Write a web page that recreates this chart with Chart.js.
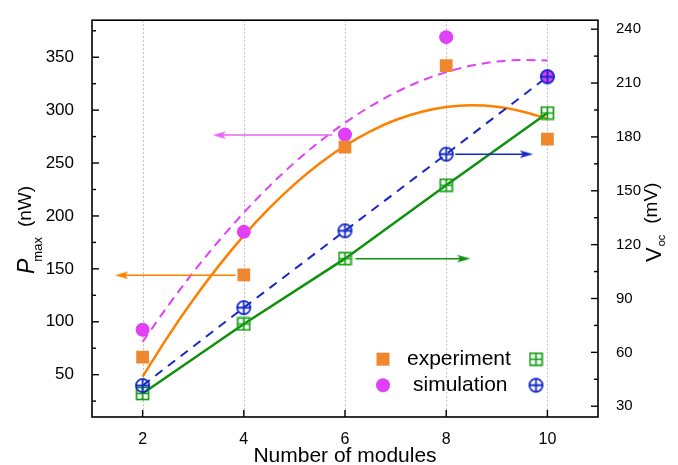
<!DOCTYPE html>
<html><head><meta charset="utf-8">
<script src="https://cdn.jsdelivr.net/npm/chart.js@4"></script>
<style>html,body{margin:0;padding:0;background:#fff}#wrap{width:678px;height:465px}</style>
</head><body><div id="wrap"><canvas id="c" width="678" height="465"></canvas></div>
<script>
// ---------- data ----------
const modules = [2, 4, 6, 8, 10];
const expPower = [66.5, 144.4, 265, 342, 272.7];
const simPower = [92.4, 185, 277, 369, 332];
const expVoc = [37.1, 75.8, 112.2, 153.1, 193.3];
const simVoc = [41.5, 84.9, 127.7, 170.4, 213.5];
const fitX = [2, 2.5, 3, 3.5, 4, 4.5, 5, 5.5, 6, 6.5, 7, 7.5, 8, 8.5, 9, 9.5, 10];
const expFitPower = [48.1, 86.0, 120.8, 152.6, 181.4, 207.1, 229.9, 249.6, 266.3, 280.0, 290.7, 298.3, 303.0, 304.6, 303.2, 298.8, 292.0];
const simFitPower = [81.0, 115.0, 146.7, 176.1, 203.1, 227.9, 250.3, 270.3, 288.1, 303.5, 316.7, 327.5, 335.9, 342.1, 345.9, 347.4, 347.0];
const xTicks = [2, 4, 6, 8, 10];
const powerTicks = [50, 100, 150, 200, 250, 300, 350];
const powerMinorTicks = [25, 75, 125, 175, 225, 275, 325, 375];
const vocTicks = [30, 60, 90, 120, 150, 180, 210, 240];
const vocMinorTicks = [45, 75, 105, 135, 165, 195, 225];
// arrows: [tail x, head x] at a y value
const arrowExpPowerX = [3.84, 1.58], arrowExpPowerY = 144;
const arrowSimPowerX = [5.75, 3.51], arrowSimPowerY = 276.4;
const arrowExpVocX = [6.21, 8.35], arrowExpVocY = 112.2;
const arrowSimVocX = [8.18, 9.59], arrowSimVocY = 170.4;

// ---------- styles ----------
const FONT = '"Liberation Sans", Arial, sans-serif';
const C_ORANGE_LINE = '#FF8000', C_ORANGE_PT = '#F0862E';
const C_MAGENTA = '#E040F8', C_MAGENTA_ARROW = '#E466F0';
const C_GREEN = '#0E920E', C_GREEN_PT = '#14A014';
const C_BLUE = '#1428C8';

function mk(w, h, fn) { const c = document.createElement('canvas'); c.width = w; c.height = h; fn(c.getContext('2d'), w, h); return c; }
const boxPlus = mk(15, 15, (g) => {
  g.strokeStyle = C_GREEN_PT; g.lineWidth = 1.7;
  g.strokeRect(1.5, 1.5, 12, 12);
  g.beginPath(); g.moveTo(7.5, 1.5); g.lineTo(7.5, 13.5); g.moveTo(1.5, 7.5); g.lineTo(13.5, 7.5); g.stroke();
});
const circPlus = mk(17, 17, (g) => {
  g.strokeStyle = C_BLUE; g.lineWidth = 1.8;
  g.beginPath(); g.arc(8.5, 8.5, 6.6, 0, Math.PI * 2); g.stroke();
  g.beginPath(); g.moveTo(8.5, 1.9); g.lineTo(8.5, 15.1); g.moveTo(1.9, 8.5); g.lineTo(15.1, 8.5); g.stroke();
});
function arrowHead(color, dir) {
  return mk(13, 9, (g, w, h) => {
    g.fillStyle = color; g.beginPath();
    if (dir < 0) { g.moveTo(0, 4.5); g.lineTo(13, 0.8); g.lineTo(10.5, 4.5); g.lineTo(13, 8.2); }
    else { g.moveTo(13, 4.5); g.lineTo(0, 0.8); g.lineTo(2.5, 4.5); g.lineTo(0, 8.2); }
    g.closePath(); g.fill();
  });
}

const pts = (xs, ys) => xs.map((x, i) => ({ x, y: ys[i] }));

const datasets = [
  // markers (lowest order drawn on top)
  { data: pts(modules, simVoc), yAxisID: 'y1', pointStyle: circPlus, pointRadius: 7, showLine: false, order: 1 },
  { data: pts(modules, expVoc), yAxisID: 'y1', pointStyle: boxPlus, pointRadius: 7, showLine: false, order: 2 },
  { data: pts(modules, expPower), yAxisID: 'y', pointStyle: 'rect', pointRadius: 9, backgroundColor: C_ORANGE_PT, borderColor: C_ORANGE_PT, borderWidth: 0, showLine: false, order: 3 },
  { data: pts(modules, simPower), yAxisID: 'y', pointStyle: 'circle', pointRadius: 7, backgroundColor: C_MAGENTA, borderColor: C_MAGENTA, borderWidth: 0, showLine: false, order: 4 },
  // arrows
  { data: pts(arrowExpPowerX, [arrowExpPowerY, arrowExpPowerY]), yAxisID: 'y', showLine: true, borderColor: C_ORANGE_LINE, borderWidth: 1.5, pointRadius: [0, 6], pointStyle: arrowHead(C_ORANGE_LINE, -1), order: 5 },
  { data: pts(arrowSimPowerX, [arrowSimPowerY, arrowSimPowerY]), yAxisID: 'y', showLine: true, borderColor: C_MAGENTA_ARROW, borderWidth: 1.5, pointRadius: [0, 6], pointStyle: arrowHead(C_MAGENTA_ARROW, -1), order: 5 },
  { data: pts(arrowExpVocX, [arrowExpVocY, arrowExpVocY]), yAxisID: 'y1', showLine: true, borderColor: C_GREEN, borderWidth: 1.5, pointRadius: [0, 6], pointStyle: arrowHead(C_GREEN, 1), order: 5 },
  { data: pts(arrowSimVocX, [arrowSimVocY, arrowSimVocY]), yAxisID: 'y1', showLine: true, borderColor: C_BLUE, borderWidth: 1.5, pointRadius: [0, 6], pointStyle: arrowHead(C_BLUE, 1), order: 5 },
  // lines
  { data: pts(modules, simVoc), yAxisID: 'y1', showLine: true, borderColor: C_BLUE, borderWidth: 2, borderDash: [9, 7], pointRadius: 0, order: 6 },
  { data: pts(modules, expVoc), yAxisID: 'y1', showLine: true, borderColor: C_GREEN, borderWidth: 2.5, pointRadius: 0, order: 6 },
  { data: pts(fitX, expFitPower), yAxisID: 'y', showLine: true, borderColor: C_ORANGE_LINE, borderWidth: 2.5, pointRadius: 0, cubicInterpolationMode: 'monotone', order: 7 },
  { data: pts(fitX, simFitPower), yAxisID: 'y', showLine: true, borderColor: C_MAGENTA, borderWidth: 2, borderDash: [9, 6], pointRadius: 0, cubicInterpolationMode: 'monotone', order: 8 }
];

function setTicks(arr) { return (s) => { s.ticks = arr.map(v => ({ value: v })); }; }

function drawRich(ctx, x, y, parts) {
  ctx.save(); ctx.translate(x, y); ctx.rotate(-Math.PI / 2);
  ctx.fillStyle = '#000'; ctx.textBaseline = 'alphabetic'; ctx.textAlign = 'left';
  let cx = 0;
  for (const p of parts) {
    ctx.font = p.font; cx += (p.dx || 0);
    ctx.fillText(p.text, cx, p.dy || 0);
    cx += ctx.measureText(p.text).width;
  }
  ctx.restore();
}

const decor = {
  id: 'decor',
  beforeDatasetsDraw(chart) {
    const ctx = chart.ctx, ca = chart.chartArea, X = chart.scales.x;
    ctx.save();
    ctx.strokeStyle = '#bdbdbd'; ctx.lineWidth = 1; ctx.setLineDash([2, 2]);
    for (const v of xTicks) {
      const px = Math.round(X.getPixelForValue(v)) + 0.5;
      ctx.beginPath(); ctx.moveTo(px, ca.top); ctx.lineTo(px, ca.bottom); ctx.stroke();
    }
    ctx.restore();
  },
  afterDatasetsDraw(chart) {
    const ctx = chart.ctx, ca = chart.chartArea, X = chart.scales.x, L = chart.scales.y, R = chart.scales.y1;
    ctx.save();
    ctx.strokeStyle = '#000'; ctx.lineWidth = 1.6; ctx.setLineDash([]);
    ctx.strokeRect(ca.left, ca.top, ca.right - ca.left, ca.bottom - ca.top);
    ctx.lineWidth = 1.4;
    const tick = (x1, y1, x2, y2) => { ctx.beginPath(); ctx.moveTo(x1, y1); ctx.lineTo(x2, y2); ctx.stroke(); };
    for (const v of powerTicks) { const p = L.getPixelForValue(v); tick(ca.left, p, ca.left + 7, p); }
    for (const v of powerMinorTicks) { const p = L.getPixelForValue(v); tick(ca.left, p, ca.left + 4, p); }
    for (const v of vocTicks) { const p = R.getPixelForValue(v); tick(ca.right, p, ca.right - 7, p); }
    for (const v of vocMinorTicks) { const p = R.getPixelForValue(v); tick(ca.right, p, ca.right - 4, p); }
    for (const v of xTicks) { const p = X.getPixelForValue(v); tick(p, ca.bottom, p, ca.bottom - 7); }

    // axis titles
    ctx.fillStyle = '#000';
    ctx.font = '21px ' + FONT; ctx.textAlign = 'center'; ctx.textBaseline = 'alphabetic';
    ctx.fillText('Number of modules', (ca.left + ca.right) / 2, 462);
    drawRich(ctx, 34, 274, [
      { text: 'P', font: 'italic 23px ' + FONT },
      { text: 'max', font: '13px ' + FONT, dx: -3, dy: 8 },
      { text: '(nW)', font: '19px ' + FONT, dx: 10, dy: -3 }
    ]);
    drawRich(ctx, 661, 262, [
      { text: 'V', font: '22px ' + FONT },
      { text: 'oc', font: '11px ' + FONT, dx: 1, dy: 4 },
      { text: '(mV)', font: '19px ' + FONT, dx: 11, dy: -4 }
    ]);

    // legend
    const lx = ca.right - 215, ly1 = ca.top + 339, ly2 = ca.top + 365, rx = ca.right - 62;
    ctx.fillStyle = C_ORANGE_PT; ctx.fillRect(lx - 6.5, ly1 - 6.5, 13, 13);
    ctx.fillStyle = C_MAGENTA; ctx.beginPath(); ctx.arc(lx, ly2, 7, 0, Math.PI * 2); ctx.fill();
    ctx.drawImage(boxPlus, rx - 7.5, ly1 - 7.5);
    ctx.drawImage(circPlus, rx - 8.5, ly2 - 8.5);
    ctx.fillStyle = '#000'; ctx.font = '21px ' + FONT; ctx.textAlign = 'left'; ctx.textBaseline = 'middle';
    ctx.fillText('experiment', lx + 24, ly1);
    ctx.fillText('simulation', lx + 30, ly2);
    ctx.restore();
  }
};

new Chart(document.getElementById('c'), {
  type: 'scatter',
  data: { datasets },
  plugins: [decor],
  options: {
    responsive: false, animation: false, devicePixelRatio: 1,
    layout: { padding: { top: 12, left: 0, right: 0, bottom: 0 } },
    plugins: { legend: { display: false }, tooltip: { enabled: false } },
    scales: {
      x: {
        type: 'linear', position: 'bottom', min: 1, max: 11,
        afterBuildTicks: setTicks(xTicks), afterFit: (s) => { s.height = 48; },
        grid: { display: false }, border: { display: false },
        ticks: { color: '#000', font: { size: 16, family: FONT }, padding: 5 }
      },
      y: {
        type: 'linear', position: 'left', min: 10, max: 385,
        afterBuildTicks: setTicks(powerTicks), afterFit: (s) => { s.width = 92; },
        grid: { display: false }, border: { display: false },
        ticks: { color: '#000', font: { size: 17, family: FONT }, padding: 10 }
      },
      y1: {
        type: 'linear', position: 'right', min: 24, max: 245,
        afterBuildTicks: setTicks(vocTicks), afterFit: (s) => { s.width = 80; },
        grid: { display: false }, border: { display: false },
        ticks: { color: '#000', font: { size: 15, family: FONT }, padding: 10 }
      }
    }
  }
});
</script></body></html>
